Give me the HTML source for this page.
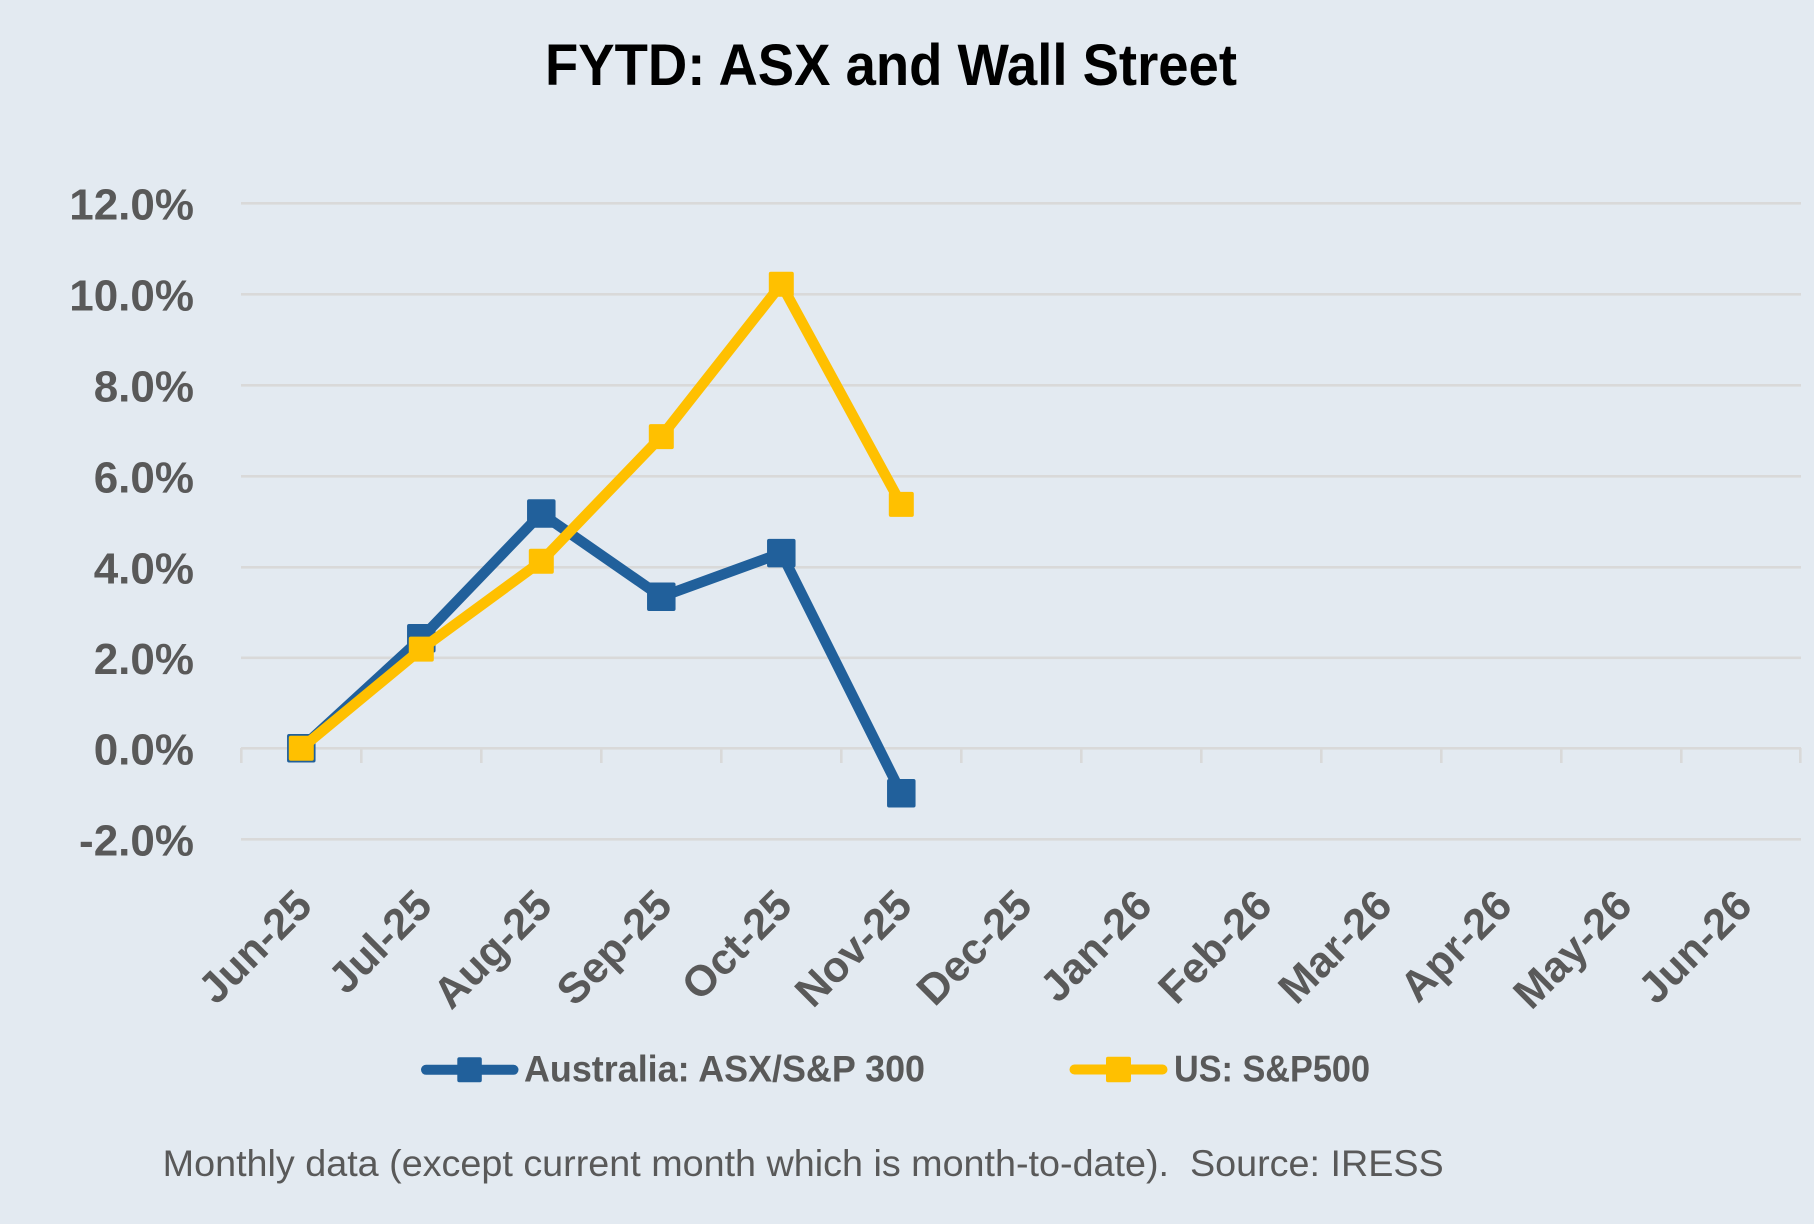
<!DOCTYPE html>
<html>
<head>
<meta charset="utf-8">
<style>
  html, body { margin: 0; padding: 0; background: #E3EAF1; }
  svg { display: block; }
  text { font-family: "Liberation Sans", Arial, sans-serif; }
</style>
</head>
<body>
<svg width="1814" height="1224" viewBox="0 0 1814 1224" xmlns="http://www.w3.org/2000/svg">
  <rect x="0" y="0" width="1814" height="1224" fill="#E3EAF1"/>

  <!-- Title -->
  <text x="545" y="85" font-size="58" font-weight="bold" fill="#000000" textLength="692" lengthAdjust="spacingAndGlyphs">FYTD: ASX and Wall Street</text>

  <!-- Gridlines -->
  <g stroke="#D9D9D9" stroke-width="2.6" fill="none">
    <line x1="241" y1="203.3" x2="1801" y2="203.3"/>
    <line x1="241" y1="294.3" x2="1801" y2="294.3"/>
    <line x1="241" y1="385.3" x2="1801" y2="385.3"/>
    <line x1="241" y1="476.3" x2="1801" y2="476.3"/>
    <line x1="241" y1="567.3" x2="1801" y2="567.3"/>
    <line x1="241" y1="657.8" x2="1801" y2="657.8"/>
    <line x1="241" y1="748.3" x2="1801" y2="748.3"/>
    <line x1="241" y1="839.3" x2="1801" y2="839.3"/>
    <!-- tick marks -->
    <line x1="241.3" y1="748" x2="241.3" y2="763"/>
    <line x1="361.3" y1="748" x2="361.3" y2="763"/>
    <line x1="481.3" y1="748" x2="481.3" y2="763"/>
    <line x1="601.3" y1="748" x2="601.3" y2="763"/>
    <line x1="721.3" y1="748" x2="721.3" y2="763"/>
    <line x1="841.3" y1="748" x2="841.3" y2="763"/>
    <line x1="961.3" y1="748" x2="961.3" y2="763"/>
    <line x1="1081.3" y1="748" x2="1081.3" y2="763"/>
    <line x1="1201.3" y1="748" x2="1201.3" y2="763"/>
    <line x1="1321.3" y1="748" x2="1321.3" y2="763"/>
    <line x1="1441.3" y1="748" x2="1441.3" y2="763"/>
    <line x1="1561.3" y1="748" x2="1561.3" y2="763"/>
    <line x1="1681.3" y1="748" x2="1681.3" y2="763"/>
    <line x1="1800.3" y1="748" x2="1800.3" y2="763"/>
  </g>

  <!-- Y axis labels -->
  <g font-size="44" font-weight="bold" fill="#595959" text-anchor="end">
    <text x="194" y="219.3">12.0%</text>
    <text x="194" y="310.3">10.0%</text>
    <text x="194" y="401.3">8.0%</text>
    <text x="194" y="492.3">6.0%</text>
    <text x="194" y="583.3">4.0%</text>
    <text x="194" y="673.8">2.0%</text>
    <text x="194" y="764.3">0.0%</text>
    <text x="194" y="855.3">-2.0%</text>
  </g>

  <!-- X axis labels -->
  <g font-size="43" font-weight="bold" fill="#595959" text-anchor="end">
    <text transform="translate(314.3,908) rotate(-45)">Jun-25</text>
    <text transform="translate(434.3,908) rotate(-45)">Jul-25</text>
    <text transform="translate(554.3,908) rotate(-45)">Aug-25</text>
    <text transform="translate(674.3,908) rotate(-45)">Sep-25</text>
    <text transform="translate(794.3,908) rotate(-45)">Oct-25</text>
    <text transform="translate(914.3,908) rotate(-45)">Nov-25</text>
    <text transform="translate(1034.3,908) rotate(-45)">Dec-25</text>
    <text transform="translate(1154.3,908) rotate(-45)">Jan-26</text>
    <text transform="translate(1274.3,908) rotate(-45)">Feb-26</text>
    <text transform="translate(1394.3,908) rotate(-45)">Mar-26</text>
    <text transform="translate(1514.3,908) rotate(-45)">Apr-26</text>
    <text transform="translate(1634.3,908) rotate(-45)">May-26</text>
    <text transform="translate(1754.3,908) rotate(-45)">Jun-26</text>
  </g>

  <!-- ASX series -->
  <polyline points="301.3,748.3 421.3,638.2 541.3,513.5 661.3,596.8 781.3,553.1 901.3,793.3"
            fill="none" stroke="#21609B" stroke-width="10.5" stroke-linejoin="round"/>
  <g fill="#21609B">
    <rect x="287.05" y="734.05" width="28.5" height="28.5" rx="2"/>
    <rect x="407.05" y="623.95" width="28.5" height="28.5" rx="2"/>
    <rect x="527.05" y="499.25" width="28.5" height="28.5" rx="2"/>
    <rect x="647.05" y="582.55" width="28.5" height="28.5" rx="2"/>
    <rect x="767.05" y="538.85" width="28.5" height="28.5" rx="2"/>
    <rect x="887.05" y="779.05" width="28.5" height="28.5" rx="2"/>
  </g>

  <!-- S&P series -->
  <polyline points="301.3,748.3 421.3,649.1 541.3,561.3 661.3,436.6 781.3,284.2 901.3,504.4"
            fill="none" stroke="#FFC000" stroke-width="10.5" stroke-linejoin="round"/>
  <g fill="#FFC000">
    <rect x="288.8" y="735.8" width="25" height="25" rx="2"/>
    <rect x="408.8" y="636.6" width="25" height="25" rx="2"/>
    <rect x="528.8" y="548.8" width="25" height="25" rx="2"/>
    <rect x="648.8" y="424.1" width="25" height="25" rx="2"/>
    <rect x="768.8" y="271.7" width="25" height="25" rx="2"/>
    <rect x="888.8" y="491.9" width="25" height="25" rx="2"/>
  </g>

  <!-- Legend -->
  <line x1="426" y1="1069.8" x2="513.5" y2="1069.8" stroke="#21609B" stroke-width="10" stroke-linecap="round"/>
  <rect x="457.3" y="1057.3" width="24.5" height="25" rx="2" fill="#21609B"/>
  <text x="524" y="1081.5" font-size="37" font-weight="bold" fill="#595959" textLength="401" lengthAdjust="spacingAndGlyphs">Australia: ASX/S&amp;P 300</text>

  <line x1="1074.5" y1="1069.5" x2="1162.5" y2="1069.5" stroke="#FFC000" stroke-width="10" stroke-linecap="round"/>
  <rect x="1106" y="1056.8" width="25" height="25.5" rx="2" fill="#FFC000"/>
  <text x="1174" y="1081.5" font-size="37" font-weight="bold" fill="#595959" textLength="196" lengthAdjust="spacingAndGlyphs">US: S&amp;P500</text>

  <!-- Footnote -->
  <text x="162.7" y="1176" font-size="36.6" fill="#595959" textLength="1281" lengthAdjust="spacingAndGlyphs" xml:space="preserve">Monthly data (except current month which is month-to-date).  Source: IRESS</text>
</svg>
</body>
</html>
